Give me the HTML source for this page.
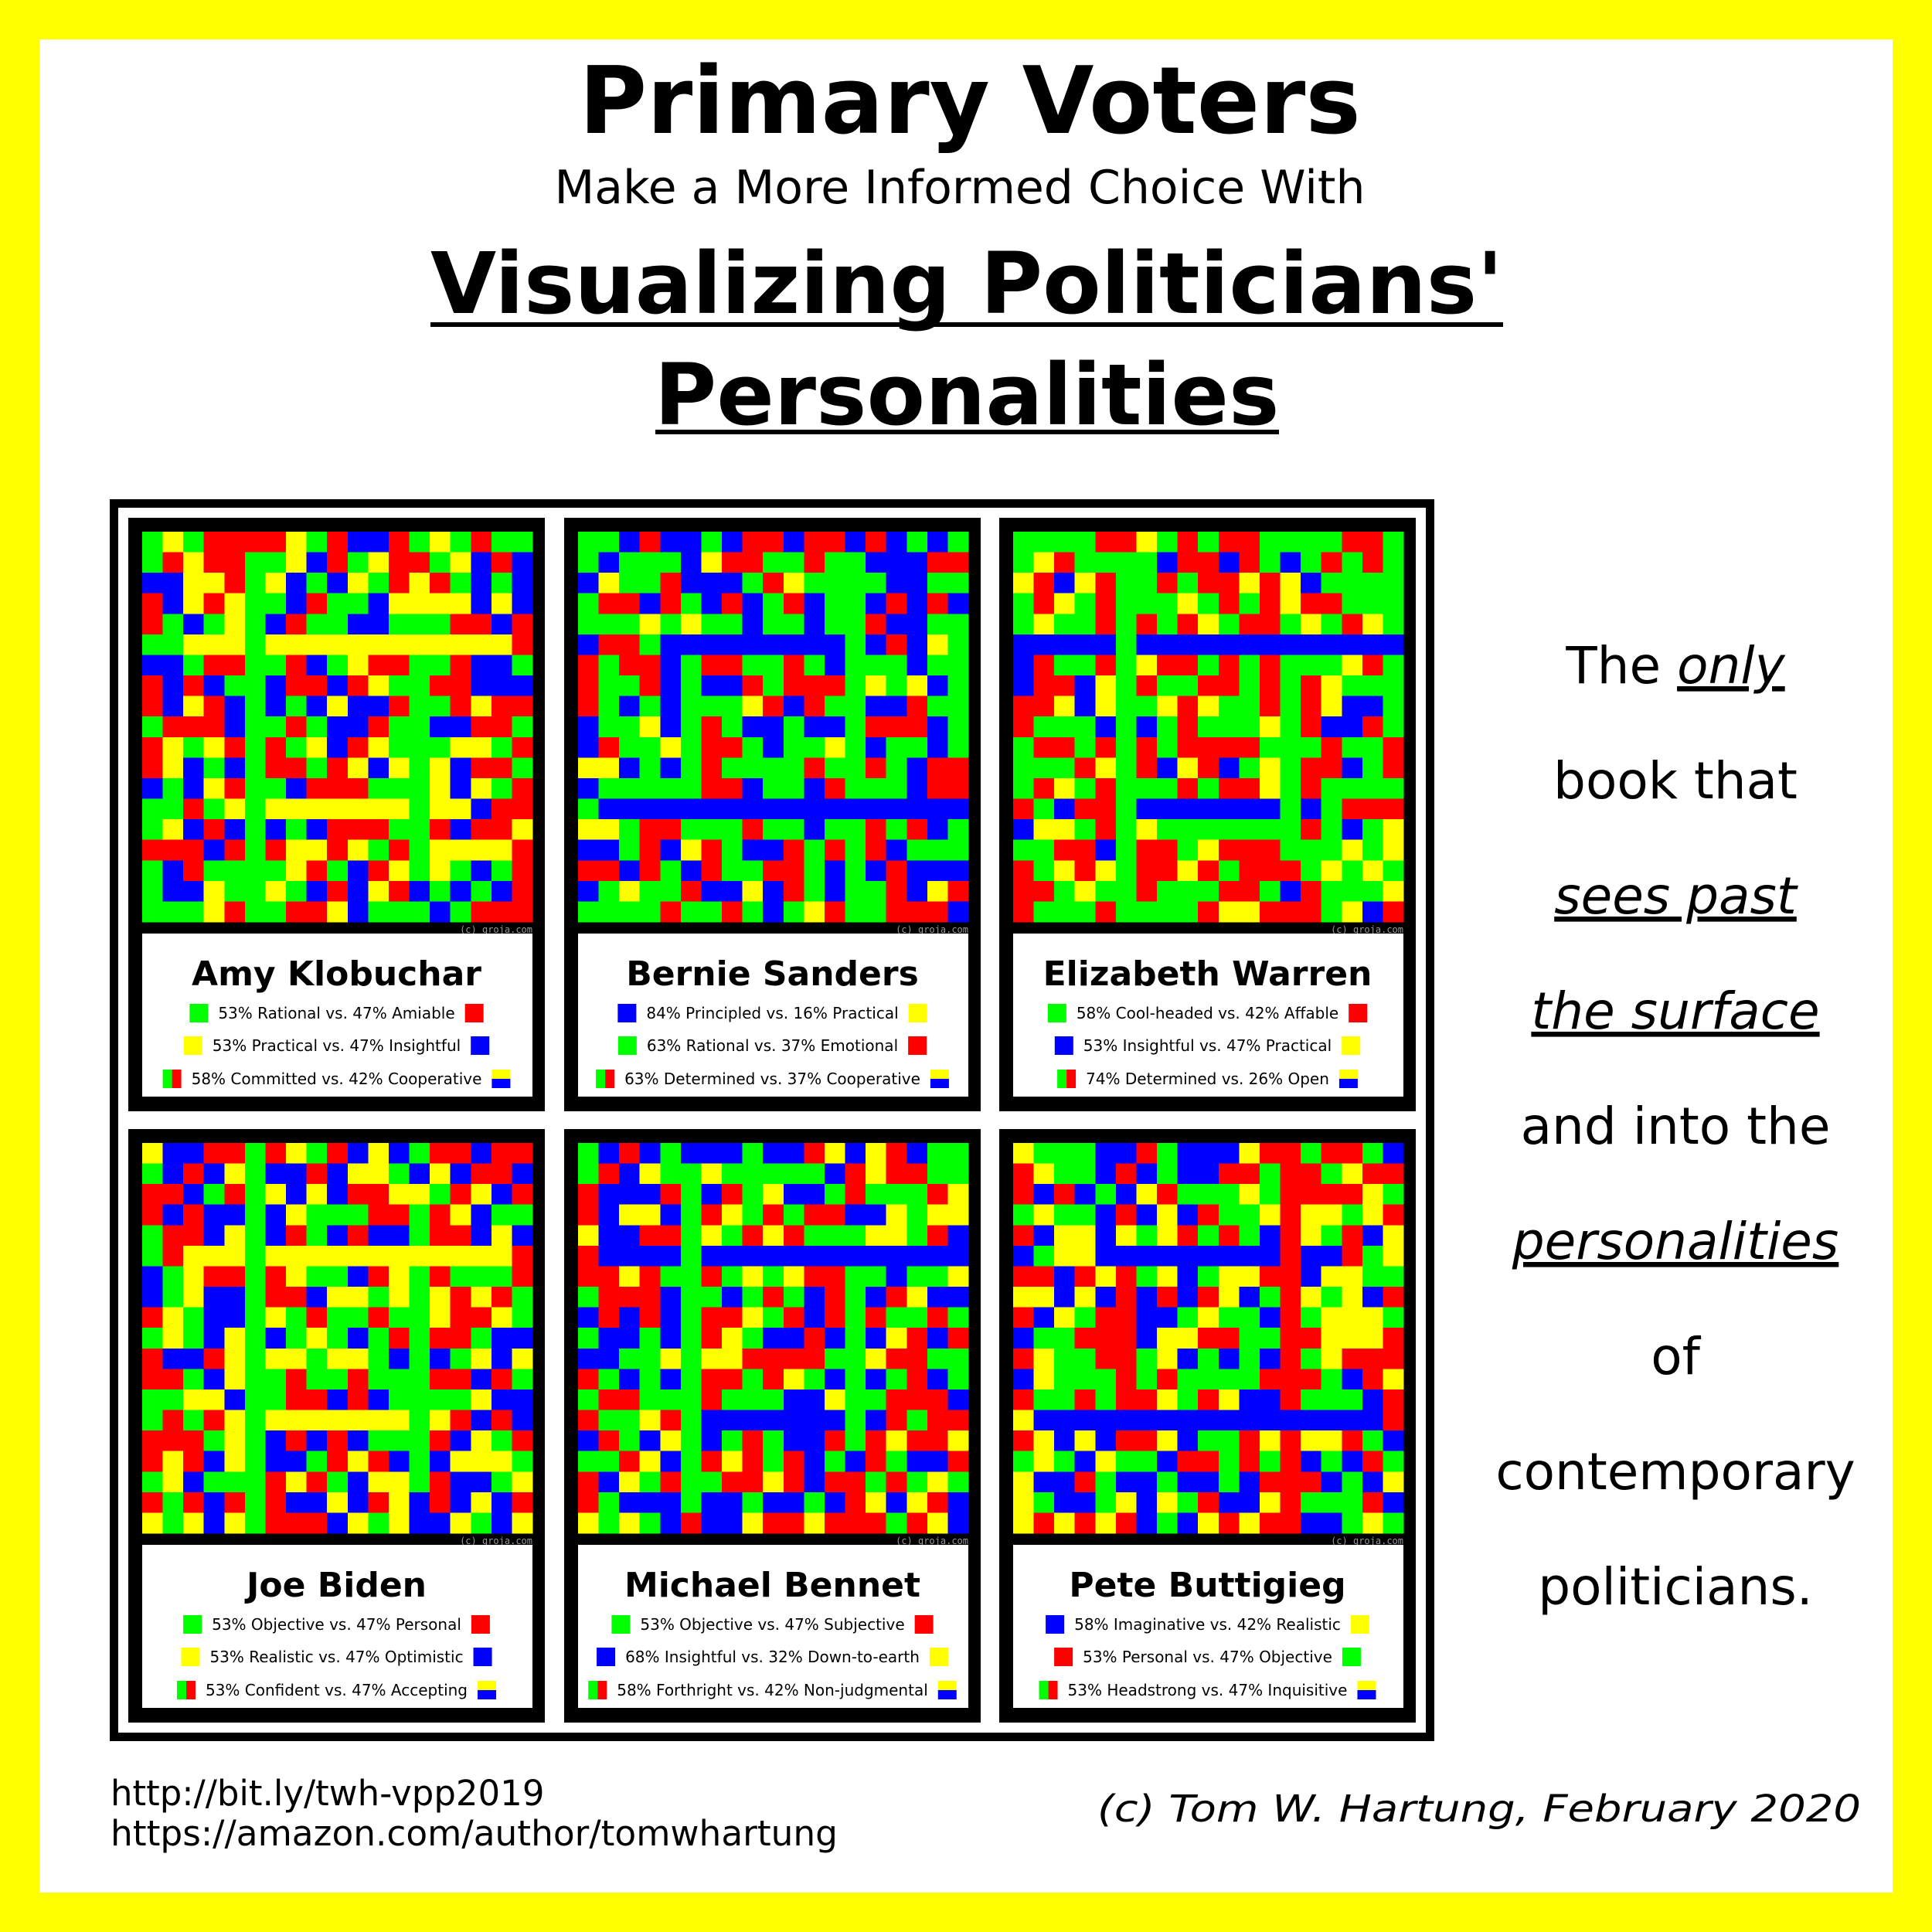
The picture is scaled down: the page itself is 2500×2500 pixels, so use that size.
<!DOCTYPE html>
<html><head><meta charset="utf-8">
<style>
html,body{margin:0;padding:0;background:#ff0;}
svg{display:block;font-family:"DejaVu Sans","Liberation Sans",sans-serif;}
</style></head>
<body>
<svg id="root" width="2500" height="2500" viewBox="0 0 2500 2500" xmlns="http://www.w3.org/2000/svg">
<rect x="0" y="0" width="2500" height="2500" fill="#ffff00"/>
<rect x="51" y="51" width="2398" height="2398" fill="#ffffff"/>
<text x="1255" y="172" text-anchor="middle" font-size="120" font-weight="bold">Primary Voters</text>
<text x="1242" y="263" text-anchor="middle" font-size="60">Make a More Informed Choice With</text>
<text x="1251" y="405" text-anchor="middle" font-size="110" font-weight="bold">Visualizing Politicians'</text>
<rect x="557" y="417" width="1388" height="6" fill="#000"/>
<text x="1251" y="549" text-anchor="middle" font-size="110" font-weight="bold">Personalities</text>
<rect x="848" y="556" width="807" height="6" fill="#000"/>
<rect x="147.5" y="651.5" width="1703" height="1596" fill="#fff" stroke="#000" stroke-width="11"/>
<g id="panels"></g>
<g id="blurb" font-size="66" text-anchor="middle"></g>
<text x="143" y="2336" font-size="45">http://bit.ly/twh-vpp2019</text>
<text x="143" y="2388" font-size="45" textLength="941" lengthAdjust="spacingAndGlyphs">https://amazon.com/author/tomwhartung</text>
<text x="2408" y="2357" text-anchor="end" font-size="48" font-style="italic" textLength="988" lengthAdjust="spacingAndGlyphs">(c) Tom W. Hartung, February 2020</text>
</svg>
<script>
const names = ["Amy Klobuchar","Bernie Sanders","Elizabeth Warren","Joe Biden","Michael Bennet","Pete Buttigieg"];
const legend1 = ["53% Rational vs. 47% Amiable","84% Principled vs. 16% Practical","58% Cool-headed vs. 42% Affable","53% Objective vs. 47% Personal","53% Objective vs. 47% Subjective","58% Imaginative vs. 42% Realistic"];
const legend1Colors = ["GR","BY","GR","GR","GR","BY"];
const legend2 = ["53% Practical vs. 47% Insightful","63% Rational vs. 37% Emotional","53% Insightful vs. 47% Practical","53% Realistic vs. 47% Optimistic","68% Insightful vs. 32% Down-to-earth","53% Personal vs. 47% Objective"];
const legend2Colors = ["YB","GR","BY","YB","BY","RG"];
const legend3 = ["58% Committed vs. 42% Cooperative","63% Determined vs. 37% Cooperative","74% Determined vs. 26% Open","53% Confident vs. 47% Accepting","58% Forthright vs. 42% Non-judgmental","53% Headstrong vs. 47% Inquisitive"];
const gridAmy = ["GYGRRRRYGRBBRGYGRGG","GRYRRGGYBRGYRRGYBRB","BBYYRGYBGBYGRYRGBGB","RBYRYGGBRGGBYYYYBYB","RGBGYGBRGGBBGGGRRBR","GGYYYGYYYYYYYYYYYYR","BBGRRGGRBGYRRGGRBBG","RBRBGGBRRBRYGGRRBBB","RBYRBGBGBYBBRGGRYRR","GRRRBGGRGBBRGGBBRRG","RYGYRGRGYBRYGGGYYGR","RYBGBGRRGRYBYGYBRRG","BGBYRGGBRRRGGGYBYGR","GGRGYGYYYYYYYGYYBRR","GYBRBGBGBRRRGGRBRRY","RRRBRGRYYRYGRGYYYYR","GBRGGGGYRGBRYGYGBGR","GBBYGGYGBRBYRBGBGBR","GGGYRGGRRYBGGGBGRRR"];
const gridBernie = ["GGBRBBGBRRBRRBRBGBG","GBGGGBYRRGGRGGBBBRR","BYGGRBBBGRYGGGGBBGG","GRRBRGBRBGRBGGBRBRB","GGGYGYGGBGGBGGRBBGG","BRRGBBBBBBBBBGBRBYG","RGRRBGRRGGRGBGGGBGG","RGGRBGBBRGRRRGYGYBG","RGBGBGGGYRBRGGBBRGG","BGGYBGRGBBGBBGRRRBG","BRGGYGRRGBGGYGBGGBG","YYBGBGRGGGGRGGRGBRR","BGGGGGRRBGGBRGGGBRR","GBBBBBBBBBBBBBBBBBB","YYGRRGGGRGGBGGRGRBG","BBGRBYRGBBRGRGRBGGG","RRBRGBRGGRRGBGBRBBB","BGYGGRBBYBRGBGGRBYR","GGGGRGGRGBGYRGGRRRB"];
const gridWarren = ["GGGGRRYGRGRRGGGGRRG","GYRGGGGBRRBRGBGRGRG","YRBYRGGRGRRYRYBGGGG","GRYGRGGGYGRGRYRRGGG","GYGGRGRGRYGRRGYGRYG","BBBBBGBBBBBBBBBBBBB","BRGGRGYRRGRGRGGGYRG","BRRBYGRGGRRGRGRYGGG","RRYBYGGYRYGGRGRYBBG","RGGGBGBGRGGGYGRBBRG","GRRGRGRGRRRRGGGRGGR","GGGRYGRBYRBGYGRRBGR","GRYGRGGGRGRRYGRGGGG","RGBRRGBBBBBBBGBGRRR","BYYGRGYGGGGGGGRGBGY","GGRRBGRRGYRRRGGGYGY","RGYRYGRRYRGRRRGYGYG","RRGYGGRGGGRRGBRGGGY","RGGGRGGGGRYYRRRGYBR"];
const gridBiden = ["YBBRRGRYGRBYBGRRBRR","GBRBYGBBRBYYGBYBRRB","RRBGRGYBYBRRYYGRYBR","RBRBBGBYGGGRRGRYBGG","GRRBYGBRGBRBBGRRBYB","GRYYYGYYYYYYYYYYYYR","BGYRRGRYGGBRYGRGGGR","BGYBBGRRBYYGYGYRYRG","RYGBBGYGRGGRGGYRRYG","GYGBYGBGYGBGRGRRGBB","RBBRYGYYGYYGBGBGYBY","RRGBYGGRGGRGGGRRBRG","GGYYBGGRRBRBGGGGYBB","GRGRYGYYYYYYYGYRBRB","RRRGYGBRBRBGGGRBYGR","RYRBYGBBGRYRBGBYYYG","GYBGGGRYRGBYYGRBBGY","RGRBRGRBBYBRYBRBYBR","YGYBYGRRRBYGYBBYGBY"];
const gridBennet = ["GBRBGBBBGBBRYBYRBGG","GRBYGGYGGGGGBRYRRGG","RBBBRGBRGYBBGRGGGRY","RBYYBGRYGRGRRBBYGYY","YBBRRGYGRYRGGGYYGRB","RBBBBGBBBBBBBBBBBBB","RRYRGGRGYGYRRGGBGGY","GRRRBGGBGRGBRGBRYBB","BRBRBGRRYGRBRGRGGRG","GBBGBGRYGBBRBGBYRBR","BBGGYGYYRRRRGGYRRGG","RGBGBGRRGRYGBGBGRBG","GRRGGGRGGGBBYGGRRRB","RGGYRGBBBBBBBGBRGRR","BRGBYGBGRGBBRGRYRRY","GGRYBGRYRGRBGBRGBBR","RBYGRGGRRYRBRRGRGYG","RGBBBGBBGBBGBRYBYRB","YGYGBRBBYRRYRRRGRYB"];
const gridPete = ["YGGGBBRGBBBYRRGRRGB","RYGGBRBGBBRRGRRGYRR","RBRBGBYRGGGYGRRRRYG","GYGGBRBYBRGGYRYYGYR","RBYYBYGYRGRGBRYGRBY","BGYYBBBBBBBBBRBBRGY","RRBRYRGYBGYYRRBYYGG","YYBYBRBRBRYBGRYGYBR","RBYGRRBBGYGGBRGYYYG","BGGRRRBYYRRGGRRYYYR","RYGGRRGYBGBGBRGYRRR","BYGGGRGRGGGGRRRGBRY","RGGRGRRYGRYBBRGGGBR","YBBBBBBBBBBBBBBBBBR","RYBYBRRYBGGRYRYYRGB","GYGBYGGBRRGRGRBGBRG","YBBRGBBGBBGBRRRBGBY","YGBBGYBYGRBBYRGGGRB","YRYRYRBGBYRYRRBBGYG"];
const grids = [gridAmy,gridBernie,gridWarren,gridBiden,gridBennet,gridPete];
const blurbLines = [["The ","only"],["book that"],["","sees past"],["","the surface"],["and into the"],["","personalities"],["of"],["contemporary"],["politicians."]];

const NS = "http://www.w3.org/2000/svg";
const COLORS = {G:"#00ff00",R:"#ff0000",Y:"#ffff00",B:"#0000ff"};
const PANEL_X = [166,730,1293], PANEL_Y = [670,1461], PANEL_W = 539, PANEL_H = 768;
const INSET = 18, GRID = 505;
function mk(tag, attrs, parent){ const e=document.createElementNS(NS,tag); for(const k in attrs) e.setAttribute(k,attrs[k]); parent.appendChild(e); return e; }
const panelsG = document.getElementById('panels');

function legendRow(g, cx, y, text, kind, colors, idx){
  const t = mk('text',{x:0,y:y,'font-size':20}, g);
  t.textContent = text;
  
  
  const w = t.getComputedTextLength();
  const sq = 24, gap = 13;
  const total = sq+gap+w+gap+sq;
  const x0 = cx - total/2;
  t.setAttribute('x', x0+sq+gap);
  const top = y-19;
  if(kind==='solid'){
    const a = mk('rect',{x:x0,y:top,width:sq,height:sq,fill:COLORS[colors[0]]},g);
    
    
    const b = mk('rect',{x:x0+sq+gap+w+gap,y:top,width:sq,height:sq,fill:COLORS[colors[1]]},g);
    
    
  } else {
    const a1 = mk('rect',{x:x0,y:top,width:sq/2,height:sq,fill:COLORS.G},g);
    
    
    const a2 = mk('rect',{x:x0+sq/2,y:top,width:sq/2,height:sq,fill:COLORS.R},g);
    
    
    const rx = x0+sq+gap+w+gap;
    const b1 = mk('rect',{x:rx,y:top,width:sq,height:sq/2,fill:COLORS.Y},g);
    
    
    const b2 = mk('rect',{x:rx,y:top+sq/2,width:sq,height:sq/2,fill:COLORS.B},g);
    
    
  }
}

names.forEach((name,i)=>{
  const px = PANEL_X[i%3], py = PANEL_Y[Math.floor(i/3)];
  const slug = name.toLowerCase().replace(/\s+/g,'-');
  const g = mk('g',{},panelsG);
  
  
  const bg = mk('rect',{x:px,y:py,width:PANEL_W,height:PANEL_H,fill:'#000'},g);
  
  
  const grid = grids[i];
  const n = grid.length, cell = GRID/n;
  const gx = px+INSET, gy = py+INSET;
  const cg = mk('g',{'shape-rendering':'crispEdges'},g);
  
  
  for(let r=0;r<n;r++){
    for(let c=0;c<grid[r].length;c++){
      const cellEl = mk('rect',{x:(gx+c*cell).toFixed(2),y:(gy+r*cell).toFixed(2),width:(cell+0.4).toFixed(2),height:(cell+0.4).toFixed(2),fill:COLORS[grid[r][c]]},cg);
      
      
    }
  }
  const cr = mk('text',{x:gx+GRID,y:gy+GRID+14,'font-size':12,'text-anchor':'end',fill:'#999','font-family':'DejaVu Sans Mono, monospace'},g);
  cr.textContent = '(c) groja.com';
  
  
  const lb = mk('rect',{x:gx,y:py+538,width:GRID,height:211,fill:'#fff'},g);
  
  
  const cx = px+PANEL_W/2;
  const nm = mk('text',{x:cx,y:py+605,'font-size':44,'font-weight':'bold','text-anchor':'middle'},g);
  nm.textContent = name;
  
  
  legendRow(g, cx, py+648, legend1[i], 'solid', legend1Colors[i], 1);
  legendRow(g, cx, py+690, legend2[i], 'solid', legend2Colors[i], 2);
  legendRow(g, cx, py+733, legend3[i], 'split', null, 3);
});

const blurb = document.getElementById('blurb');
blurbLines.forEach((parts,i)=>{
  const t = mk('text',{x:2168,y:884+i*149},blurb);
  
  
  if(parts[0]){ const a = mk('tspan',{},t); a.textContent = parts[0]; }
  if(parts[1]){ const b = mk('tspan',{'font-style':'italic','text-decoration':'underline'},t); b.textContent = parts[1]; }
});
</script>
</body></html>
